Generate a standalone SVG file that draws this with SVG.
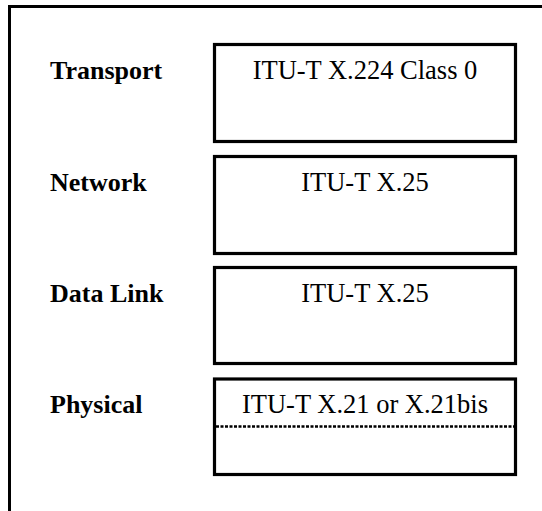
<svg xmlns="http://www.w3.org/2000/svg" width="542" height="511" viewBox="0 0 542 511">
  <style>
    .frame { fill: none; stroke: #000; stroke-width: 3; }
    .box { fill: #fff; stroke: #000; stroke-width: 3.2; }
    .layer { font-family: "Liberation Serif", "Times New Roman", serif; font-weight: bold; font-size: 26px; fill: #000; }
    .proto { font-family: "Liberation Serif", "Times New Roman", serif; font-size: 26.5px; fill: #000; text-anchor: middle; }
    .divider { stroke: #000; stroke-width: 2.5; stroke-dasharray: 3 1.5; }
  </style>
  <rect width="542" height="511" fill="#fff"/>
  <!-- outer frame, running off the right and bottom edges -->
  <rect class="frame" x="9.5" y="6.5" width="560" height="540"/>

  <g id="transport">
    <text class="layer" x="50" y="79">Transport</text>
    <rect class="box" x="214.5" y="44.5" width="301" height="97"/>
    <text class="proto" x="365" y="79">ITU-T X.224 Class 0</text>
  </g>

  <g id="network">
    <text class="layer" x="50" y="191">Network</text>
    <rect class="box" x="214.5" y="156.5" width="301" height="97"/>
    <text class="proto" x="365" y="191">ITU-T X.25</text>
  </g>

  <g id="datalink">
    <text class="layer" x="50" y="302">Data Link</text>
    <rect class="box" x="214.5" y="267.5" width="301" height="96"/>
    <text class="proto" x="365" y="302">ITU-T X.25</text>
  </g>

  <g id="physical">
    <text class="layer" x="50" y="413">Physical</text>
    <rect class="box" x="214.5" y="379" width="301" height="95.5"/>
    <text class="proto" x="365" y="412.5">ITU-T X.21 or X.21bis</text>
    <line class="divider" x1="216" y1="426.5" x2="514" y2="426.5"/>
  </g>

  <g id="connectors"></g>
</svg>
